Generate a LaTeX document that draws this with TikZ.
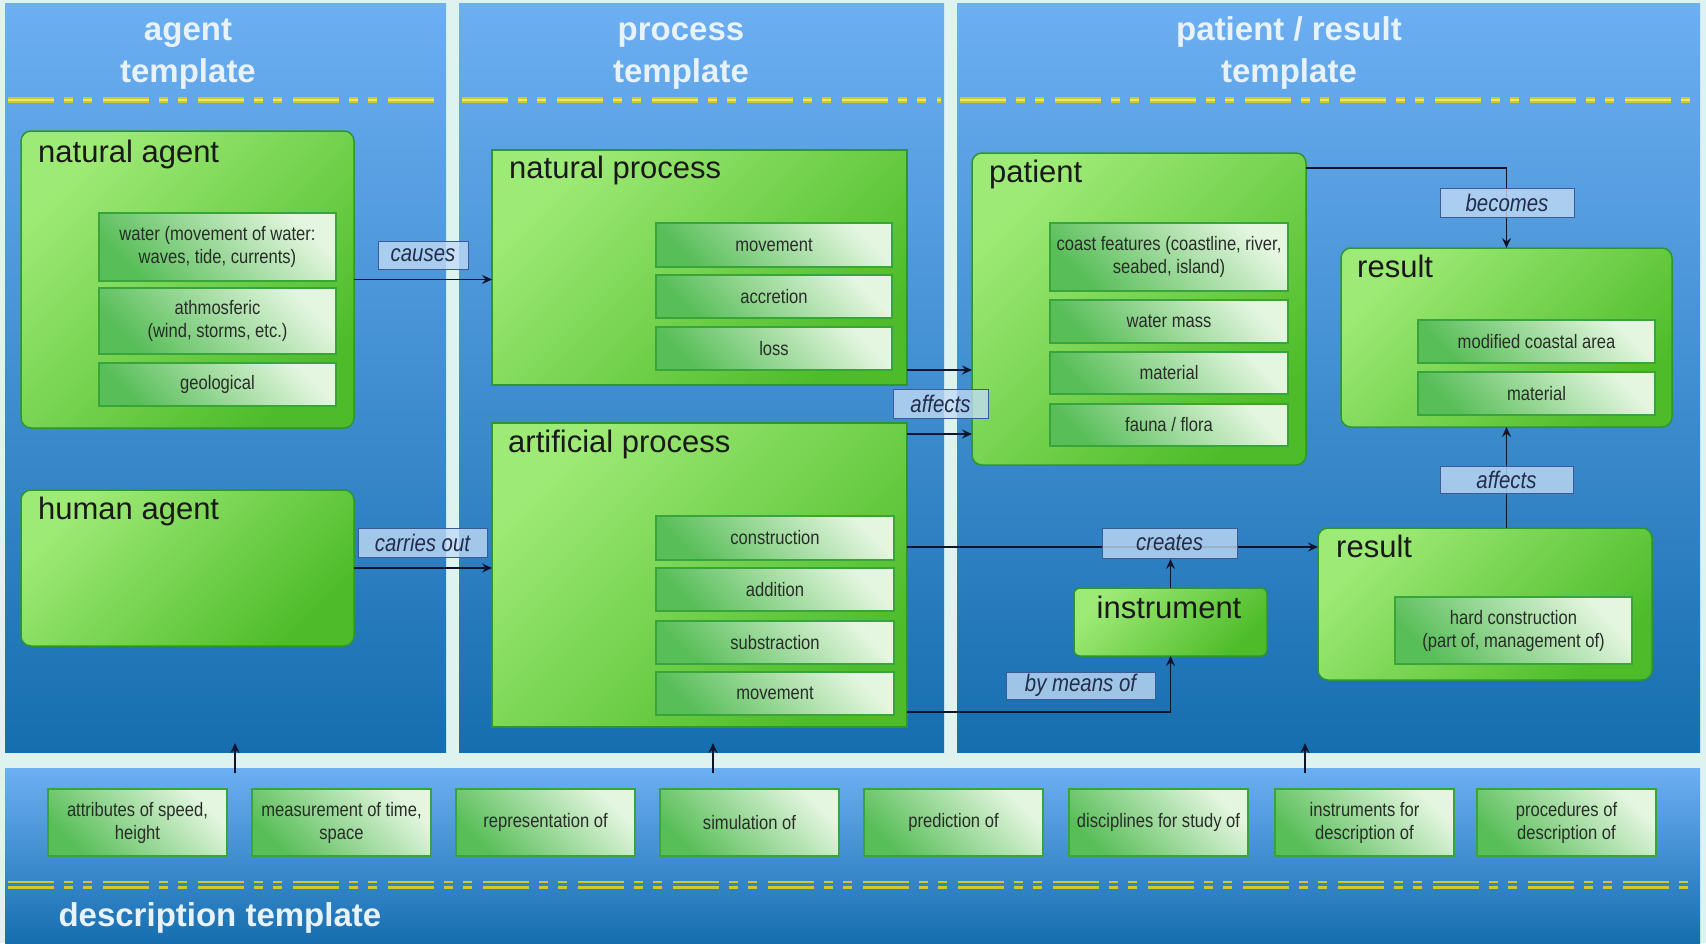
\documentclass[tikz,border=0pt]{standalone}
\usepackage{fontspec}
\setmainfont{Liberation Sans}
\newfontfamily\nar{Liberation Sans}[FakeStretch=0.85]
\usetikzlibrary{arrows.meta}
\definecolor{gapc}{RGB}{222,242,240}
\definecolor{pantop}{RGB}{108,175,242}
\definecolor{panbot}{RGB}{22,110,175}
\definecolor{gLight}{RGB}{158,234,118}
\definecolor{gDark}{RGB}{78,188,42}
\definecolor{gBorder}{RGB}{45,150,45}
\definecolor{iLight}{RGB}{228,246,224}
\definecolor{iDark}{RGB}{88,190,88}
\definecolor{iBorder}{RGB}{55,165,60}
\definecolor{lblFill}{RGB}{195,220,245}
\definecolor{lblBorder}{RGB}{60,90,150}
\definecolor{lblText}{RGB}{35,45,75}
\definecolor{arrc}{RGB}{15,20,45}
\definecolor{hdr}{RGB}{232,242,250}
\definecolor{dashY}{RGB}{205,200,45}
\definecolor{dashYL}{RGB}{235,232,110}
\definecolor{boxText}{RGB}{40,45,40}
\tikzset{
  panel/.style={shading=axis, top color=pantop, bottom color=panbot, draw=none},
  outerbox/.style={draw=gBorder, line width=1.5pt, top color=gLight, bottom color=gDark, shading angle=45, rounded corners=10pt},
  procbox/.style={draw=gBorder, line width=1.5pt, top color=gLight, bottom color=gDark, shading angle=45},
  innerbox/.style={draw=iBorder, line width=1.2pt, top color=iLight, bottom color=iDark, shading angle=-45,
    font=\nar\fontsize{19.5}{23}\selectfont, text=boxText, align=center},
  lbl/.style={draw=lblBorder, line width=1pt, fill=lblFill, fill opacity=0.78, text opacity=1,
    font=\nar\itshape\fontsize{24}{28}\selectfont, text=lblText},
  ttl/.style={font=\fontsize{31}{36}\selectfont, text=black!90, inner sep=0pt, anchor=base west},
  hdrtext/.style={font=\bfseries\fontsize{33}{42}\selectfont, text=hdr, align=center},
  arr/.style={draw=arrc, line width=1.6pt, -{Stealth[length=10pt,width=9pt,inset=3.5pt]}},
  ydash/.style={dashY, line width=6pt, dash pattern=on 46pt off 10pt on 9pt off 10pt on 9pt off 11pt},
  ydashl/.style={dashYL, line width=2pt, dash pattern=on 46pt off 10pt on 9pt off 10pt on 9pt off 11pt},
  ydasht/.style={dashY, line width=2.6pt, dash pattern=on 46pt off 10pt on 9pt off 10pt on 9pt off 11pt},
}
\newcommand\bx[7]{\node[#6, inner sep=0pt, outer sep=0pt, minimum width={#4-#2}, minimum height={#5-#3}] (#1) at ({(#2+#4)/2},{(#3+#5)/2}) {#7};}
\begin{document}
\begin{tikzpicture}[x=1pt,y=-1pt]
\useasboundingbox (0,0) rectangle (1706,943);
\fill[gapc] (0,0) rectangle (1706,943);
% panels
\bx{agentp}{5}{3}{446}{752}{panel}{}
\bx{procp}{459}{3}{944}{752}{panel}{}
\bx{patp}{957}{3}{1700}{752}{panel}{}
\bx{desc}{5}{768}{1700}{943}{panel}{}
% dashed lines
\foreach \a/\b in {8/443, 462/941, 960/1697}{
  \draw[ydash] (\a,100) -- (\b,100);
  \draw[ydashl] (\a,100) -- (\b,100);
}
\draw[ydasht] (8,882) -- (1697,882);
\draw[ydasht] (8,887.5) -- (1697,887.5);
% headers
\node[hdrtext] (h1) at (188,53) {agent\strut\\template\strut};
\node[hdrtext] (h2) at (681,53) {process\strut\\template\strut};
\node[hdrtext] (h3) at (1289,53) {patient / result\strut\\template\strut};
\node[hdrtext, anchor=base west] (h4) at (55,926) {description template};
% agent
\bx{natag}{21}{131}{354}{428}{outerbox}{}
\node[ttl] (natagt) at (38,162) {natural agent};
\bx{water}{99}{213}{336}{281}{innerbox}{water (movement of water:\\waves, tide, currents)}
\bx{atm}{99}{288}{336}{354}{innerbox}{athmosferic\\(wind, storms, etc.)}
\bx{geo}{99}{363}{336}{406}{innerbox}{geological}
\bx{human}{21}{490}{354}{646}{outerbox}{}
\node[ttl] (humant) at (38,519) {human agent};
% process
\bx{natproc}{492}{150}{907}{385}{procbox}{}
\node[ttl] (natproct) at (509,178) {natural process};
\bx{np1}{656}{223}{892}{267}{innerbox}{movement}
\bx{np2}{656}{275}{892}{318}{innerbox}{accretion}
\bx{np3}{656}{327}{892}{370}{innerbox}{loss}
\bx{artproc}{492}{423}{907}{727}{procbox}{}
\node[ttl] (artproct) at (508,452) {artificial process};
\bx{ap1}{656}{516}{894}{560}{innerbox}{construction}
\bx{ap2}{656}{568}{894}{611}{innerbox}{addition}
\bx{ap3}{656}{621}{894}{664}{innerbox}{substraction}
\bx{ap4}{656}{672}{894}{715}{innerbox}{movement}
% patient / result
\bx{patient}{972}{153}{1306}{465}{outerbox}{}
\node[ttl] (patientt) at (989,182) {patient};
\bx{pa1}{1050}{223}{1288}{291}{innerbox}{coast features (coastline, river,\\seabed, island)}
\bx{pa2}{1050}{300}{1288}{343}{innerbox}{water mass}
\bx{pa3}{1050}{352}{1288}{394}{innerbox}{material}
\bx{pa4}{1050}{404}{1288}{446}{innerbox}{fauna / flora}
\bx{res1}{1341}{248}{1672}{427}{outerbox}{}
\node[ttl] (res1t) at (1357,277) {result};
\bx{r1a}{1418}{320}{1655}{363}{innerbox}{modified coastal area}
\bx{r1b}{1418}{372}{1655}{415}{innerbox}{material}
\bx{res2}{1318}{528}{1652}{680}{outerbox}{}
\node[ttl] (res2t) at (1336,557) {result};
\bx{r2a}{1395}{597}{1632}{664}{innerbox}{hard construction\\(part of, management of)}
\bx{instr}{1074}{588}{1267}{656}{outerbox, rounded corners=6pt}{}
\node[ttl, anchor=base] (instrt) at (1169,618) {instrument};
% description boxes
\bx{d1}{48}{789}{227}{856}{innerbox}{attributes of speed,\\height}
\bx{d2}{252}{789}{431}{856}{innerbox}{measurement of time,\\space}
\bx{d3}{456}{789}{635}{856}{innerbox}{representation of}
\bx{d4}{660}{789}{839}{856}{innerbox}{simulation of}
\bx{d5}{864}{789}{1043}{856}{innerbox}{prediction of}
\bx{d6}{1069}{789}{1248}{856}{innerbox}{disciplines for study of}
\bx{d7}{1275}{789}{1454}{856}{innerbox}{instruments for\\description of}
\bx{d8}{1477}{789}{1656}{856}{innerbox}{procedures of\\description of}
% connectors
\draw[arr] (natag.east) -- (natag.east -| natproc.west);
\draw[arr] (human.east) -- (human.east -| artproc.west);
\path (natproc.south east) ++(0,-15) coordinate (c3);
\draw[arr] (c3) -- (c3 -| patient.west);
\path (artproc.north east) ++(0,11) coordinate (c4);
\draw[arr] (c4) -- (c4 -| patient.west);
\path (artproc.north east) ++(0,124) coordinate (c5);
\draw[arr] (c5) -- (c5 -| res2.west);
\path (artproc.south east) ++(0,-15) coordinate (c6);
\draw[arr] (c6) -| (instr.south);
\draw[arr] (instr.north) -- (instr.north |- 0,559);
\path (patient.north east) ++(0,15) coordinate (c7);
\draw[arr] (c7) -| (res1.north);
\draw[arr] (res1.south |- res2.north) -- (res1.south);
\foreach \x/\n in {235/u1, 713/u2, 1305/u3}{
  \coordinate (\n a) at (\x,773);
  \coordinate (\n b) at (\x,743);
  \draw[arr] (\n a) -- (\n b);
}
% labels
\bx{causes}{378}{241}{468}{269}{lbl}{causes}
\bx{carries}{358}{528}{487}{557}{lbl}{carries out}
\bx{affects1}{893}{389}{988}{418}{lbl}{affects}
\bx{becomes}{1440}{188}{1574}{217}{lbl}{becomes}
\bx{affects2}{1440}{466}{1573}{493}{lbl}{affects}
\bx{creates}{1102}{528}{1237}{558}{lbl}{creates}
\bx{bymeans}{1006}{672}{1155}{699}{lbl}{by means of}
\end{tikzpicture}
\end{document}
